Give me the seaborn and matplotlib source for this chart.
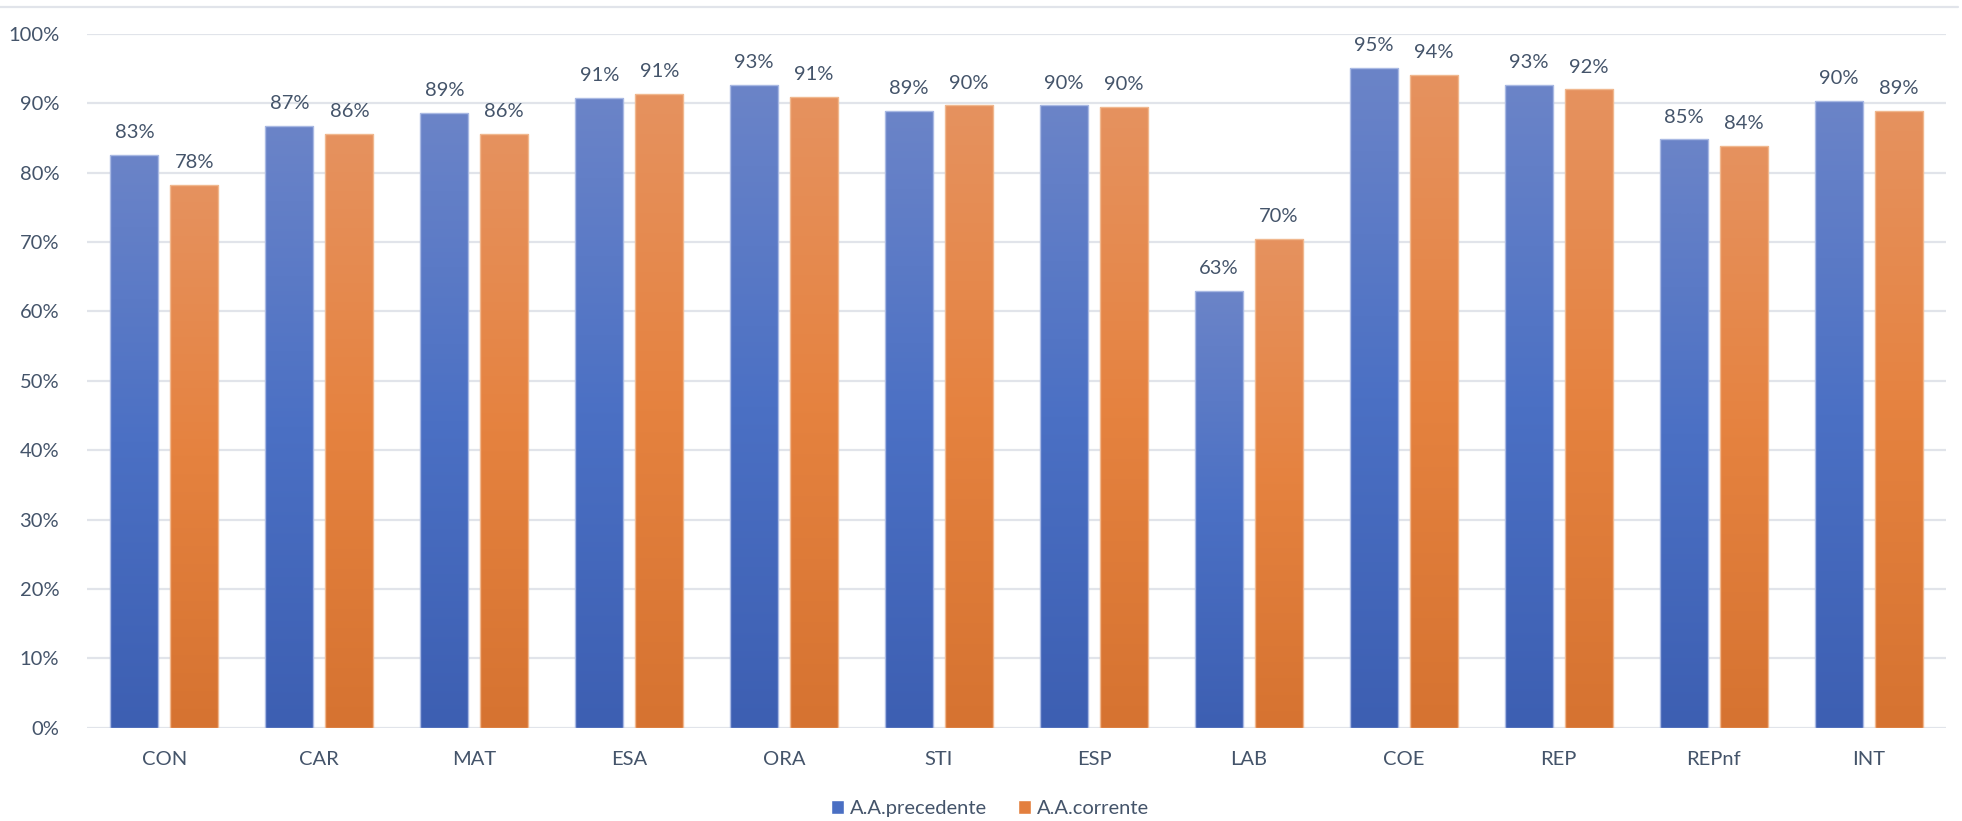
import numpy as np
import pandas as pd
import matplotlib
matplotlib.use("Agg")
import matplotlib.pyplot as plt
import matplotlib.colors as mcolors
from matplotlib.lines import Line2D
import seaborn as sns

categories = ["CON", "CAR", "MAT", "ESA", "ORA", "STI", "ESP", "LAB", "COE", "REP", "REPnf", "INT"]
prev_values = [82.6, 86.8, 88.6, 90.8, 92.6, 88.9, 89.7, 62.9, 95.1, 92.6, 84.8, 90.3]
curr_values = [78.3, 85.6, 85.6, 91.4, 90.9, 89.7, 89.5, 70.4, 94.1, 92.0, 83.8, 88.9]
series_names = ["A.A.precedente", "A.A.corrente"]
ytick_values = [0, 10, 20, 30, 40, 50, 60, 70, 80, 90, 100]

df = pd.DataFrame({
    "cat": categories * 2,
    "serie": [series_names[0]] * len(categories) + [series_names[1]] * len(categories),
    "val": [v / 100 for v in prev_values] + [v / 100 for v in curr_values],
})

TEXT = "#44546a"
GRID = "#e1e4ea"
base_cols = {series_names[0]: "#4a6fc3", series_names[1]: "#e37f3e"}
grad_cols = {
    series_names[0]: ["#6b84c8", "#4b70c4", "#3d5fb2"],
    series_names[1]: ["#e6925f", "#e5823f", "#d67331"],
}
edge_cols = {series_names[0]: "#a9b9e3", series_names[1]: "#f0b88f"}

sns.set_theme(style="white")
plt.rcParams["font.family"] = ["Lato", "DejaVu Sans"]

fig = plt.figure(figsize=(19.62, 8.21), dpi=100)
ax = fig.add_axes([87 / 1962, 93.3 / 821, (1946 - 87) / 1962, (727.7 - 34) / 821])

sns.barplot(data=df, x="cat", y="val", hue="serie", palette=base_cols,
            width=0.775, gap=0.2, ax=ax, saturation=1, legend=True)

ax.set_ylim(0, 1.0)
ax.set_xlim(-0.5, len(categories) - 0.5)
ax.set_yticks([v / 100 for v in ytick_values])
ax.set_yticklabels([f"{v}%" for v in ytick_values])
ax.yaxis.grid(True, color=GRID, linewidth=1.6)
ax.set_axisbelow(True)
for s in ax.spines.values():
    s.set_visible(False)
ax.tick_params(axis="y", length=0, pad=20, labelsize=14.5, labelcolor=TEXT)
ax.tick_params(axis="x", length=0, pad=17, labelsize=14.5, labelcolor=TEXT)
ax.set_xlabel("")
ax.set_ylabel("")

# gradient fill for bars
for cont, name in zip(ax.containers, series_names):
    cmap = mcolors.LinearSegmentedColormap.from_list("g", grad_cols[name][::-1])
    grad = np.linspace(0, 1, 256).reshape(-1, 1)
    for p in cont.patches:
        x0, y0 = p.get_x(), p.get_y()
        w, h = p.get_width(), p.get_height()
        im = ax.imshow(grad, cmap=cmap, origin="lower", aspect="auto",
                       extent=(x0, x0 + w, y0, y0 + h), zorder=p.get_zorder() + 0.01,
                       interpolation="bicubic")
        im.set_clip_path(p)
        p.set_facecolor("none")
        p.set_edgecolor(edge_cols[name])
        p.set_linewidth(1.0)
        p.set_zorder(p.get_zorder() + 0.02)
    ax.bar_label(cont, fmt=lambda v: f"{v:.0%}", padding=10, fontsize=14.5, color=TEXT)

ax.set_xlim(-0.5, len(categories) - 0.5)
ax.set_ylim(0, 1.0)

sns.move_legend(ax, "lower center", bbox_to_anchor=(0.4857, -0.155), ncol=2, frameon=False,
                title=None, fontsize=14.5, handlelength=0.65, handleheight=0.65,
                handletextpad=0.3, columnspacing=1.5, labelcolor=TEXT)

fig.add_artist(Line2D([0, 0.998], [1 - 7 / 821, 1 - 7 / 821], color=GRID, linewidth=1.6,
                      transform=fig.transFigure))

fig.savefig("out.png", dpi=100, facecolor="white")
